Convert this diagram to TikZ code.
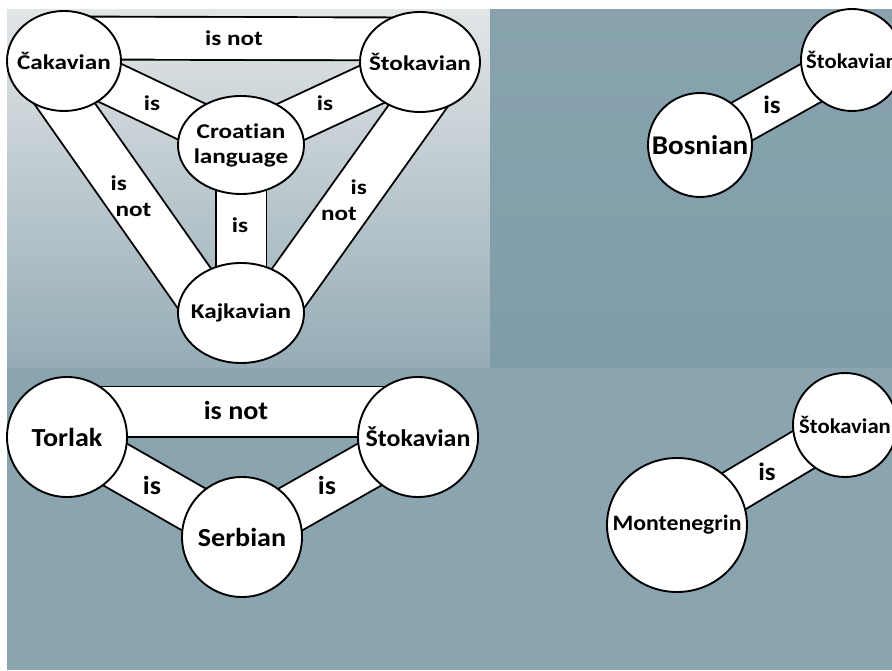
\documentclass[tikz,border=0pt]{standalone}
\usepackage{fontspec}
\setmainfont{Carlito}[Ligatures=NoCommon]
\newfontfamily\wideface{Carlito}[FakeStretch=1.2, Ligatures=NoCommon]
\newfontfamily\midface{Carlito}[FakeStretch=1.08, Ligatures=NoCommon]
\usetikzlibrary{shapes.geometric,calc}
\pgfdeclarelayer{under}
\pgfsetlayers{under,main}

\definecolor{paneltop}{HTML}{E2E5E6}
\definecolor{panelmid}{HTML}{BCC9CE}
\definecolor{panelbot}{HTML}{95ACB6}
\definecolor{slatetop}{HTML}{88A3AE}
\definecolor{slatebot}{HTML}{7F9DA9}
\definecolor{slate}{HTML}{8AA5B0}

\tikzset{
  lang/.style={ellipse, draw=black, line width=1.9pt, fill=white, inner sep=0pt},
  band/.style={line width=1.9pt, draw=black, double=white, double distance=#1},
  widetxt/.style={font=\wideface\bfseries\fontsize{21}{25}\selectfont, inner sep=0pt, align=center},
  plaintxt/.style={font=\midface\bfseries\fontsize{#1}{#1}\selectfont, inner sep=0pt, align=center},
}

\begin{document}
\begin{tikzpicture}[x=1pt,y=1pt]
\useasboundingbox (0,0) rectangle (892,670);

% backdrop of the four panels
\begin{pgfonlayer}{under}
  \fill[white] (0,0) rectangle (892,670);
  \shade[top color=paneltop, middle color=panelmid, bottom color=panelbot] (7,302) rectangle (490,660);
  \shade[top color=slatetop, bottom color=slatebot] (490,302) rectangle (892,660);
  \fill[slate] (7,0) rectangle (892,302);
\end{pgfonlayer}

% ---- Croatian dialects ----
\node[lang, minimum width=114, minimum height=100, label={[widetxt]center:Čakavian}] (ca) at (64,609) {};
\node[lang, minimum width=120, minimum height=100, label={[widetxt]center:Štokavian}] (st1) at (420,608) {};
\node[lang, minimum width=126, minimum height=98, label={[widetxt]center:{Croatian\\language}}] (hr) at (241,525) {};
\node[lang, minimum width=126, minimum height=100, label={[widetxt]center:Kajkavian}] (kj) at (241,357) {};

\node[widetxt] (l1) at (234,632) {is not};
\node[widetxt] (l2) at (152,567) {is};
\node[widetxt] (l3) at (325,567) {is};
\node[widetxt] (l4) at (240,445) {is};
\node[widetxt, align=left] (l5) at (131,474) {is\\[1pt]\hspace*{5pt}not};
\node[widetxt, align=right] (l6) at (345,470) {is\hspace*{2pt}\\[1pt]not\hspace*{12pt}};

% ---- Bosnian ----
\node[lang, minimum size=104, label={[plaintxt=27]center:Bosnian}] (bs) at (700,525) {};
\node[lang, minimum size=102, label={[plaintxt=21]center:Štokavian}] (st2) at (852,610) {};
\node[plaintxt=25] (l7) at (772,565) {is};

% ---- Serbian ----
\node[lang, minimum size=120, label={[plaintxt=26]center:Torlak}] (tl) at (67,233) {};
\node[lang, minimum size=120, label={[plaintxt=24]center:Štokavian}] (st3) at (418,233) {};
\node[lang, minimum size=120, label={[plaintxt=26]center:Serbian}] (sr) at (242,133) {};
\node[plaintxt=26] (l8) at (236,260) {is not};
\node[plaintxt=26] (l9) at (152,185) {is};
\node[plaintxt=26] (l10) at (327,185) {is};

% ---- Montenegrin ----
\node[lang, minimum width=140, minimum height=134, label={[plaintxt=22]center:Montenegrin}] (mn) at (677,145) {};
\node[lang, minimum size=104, label={[plaintxt=21]center:Štokavian}] (st4) at (845,245) {};
\node[plaintxt=25] (l11) at (767,198) {is};

% connecting bands, drawn beneath the circles
\begin{pgfonlayer}{under}
  \draw[band=41] ($(ca.center)+(0,23)$) -- ($(st1.center)+(0,23)$);
  \draw[band=42] (ca.center) -- (hr.center);
  \draw[band=42] (st1.center) -- (hr.center);
  \draw[band=49] (hr.center) -- (kj.center);
  \draw[band=48] ($(ca.center)!24pt!-90:(kj.center)$) -- ($(kj.center)!24pt!90:(ca.center)$);
  \draw[band=47] ($(st1.center)!24pt!90:(kj.center)$) -- ($(kj.center)!24pt!-90:(st1.center)$);

  \draw[band=41] (bs.center) -- (st2.center);

  \draw[band=49] ($(tl.center)+(0,25)$) -- ($(st3.center)+(0,25)$);
  \draw[band=46] (tl.center) -- (sr.center);
  \draw[band=46] (st3.center) -- (sr.center);

  \draw[band=41] (mn.center) -- (st4.center);
\end{pgfonlayer}
\end{tikzpicture}
\end{document}
